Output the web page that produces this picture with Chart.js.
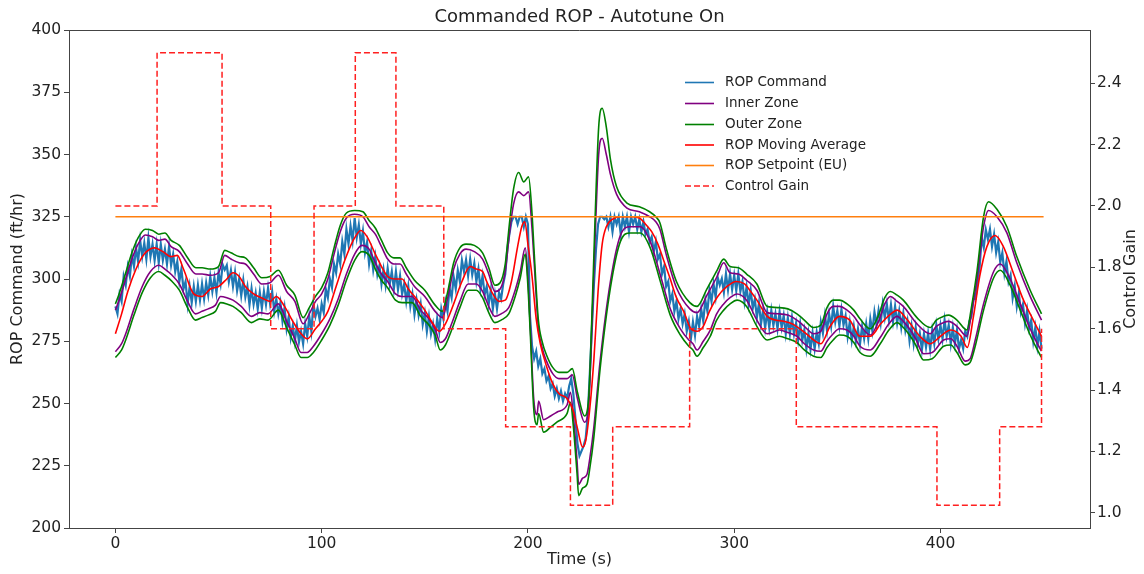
<!DOCTYPE html>
<html><head><meta charset="utf-8">
<script src="https://cdn.jsdelivr.net/npm/chart.js@4.4.0/dist/chart.umd.min.js"></script>
<style>html,body{margin:0;padding:0;background:#fff;}canvas{display:block;}</style>
</head><body>
<canvas id="c" width="1144" height="574"></canvas>
<script>
// ---------------- DATA ----------------
const chartTitle = 'Commanded ROP - Autotune On';
const xTitle = 'Time (s)';
const yTitle = 'ROP Command (ft/hr)';
const y2Title = 'Control Gain';
const legendLabels = ['ROP Command','Inner Zone','Outer Zone','ROP Moving Average','ROP Setpoint (EU)','Control Gain'];
const xTicks = [0,100,200,300,400];
const yTicks = [200,225,250,275,300,325,350,375,400];
const y2Ticks = [1.0,1.2,1.4,1.6,1.8,2.0,2.2,2.4];

// ROP command sampled once per second, t = 0 .. 449 s
const ropCommand = [
289,286,294,291,301,297.5,305,301,309.5,305,
312.5,307,315.5,309,314.5,308,316.5,309,314,307.5,
314,306.5,314,307.5,312,306,313,305.5,310,303,
307,299,304,296,299,290,297,290.5,297,291,
297.5,291.5,298,292,298.5,293.5,301,295,300.5,294.5,
302.5,298,305.8,303.7,305.5,299,303.5,297,302.7,295.3,
300,293.3,299.5,292.8,297,289.6,296.2,289.8,294.4,288,
294.7,288.3,295,289.7,296.3,290,295,287,292,286,
290.5,283,288.5,280,284.8,276.5,281.3,275,281.3,274.7,
279,274,282,277,285,279,290,285,288.3,283.7,
290,286.5,296,292.5,300,296.5,306,302.5,310,306,
315,310,320,314.1,321.3,315.4,324.5,316.7,321.8,314,
319.3,310.5,314.8,306,311.3,303.7,309,301.7,305.3,298,
303.8,297.5,304.3,298,303,296,303,295.7,301.3,294,
298,291,297,289,293.9,285.8,291.6,285.5,290.1,281.8,
286.4,279,285,278,282,276,284,279,288,284,
291,287,296.3,292.5,300.8,296,303.5,299,307.5,303,
307.7,301.3,308,301.7,306.3,299,304,296,301.3,293.7,
297,290,295.5,288,294,288,294.5,292,298,302,
312,318,323,325,325,322,325,325,321,325,
322,285,273,268,271,265,268,262,264,259,
261,256,258,253,256,252,255,251,254,252,
257,260,254,244,234,229,231,233,236,245,
262,280,298,312,322,325,325,324,325,321,
325,319,325,322,325,318,325,321,325,319,
325,322,325,320,324,319,323,318,320,315,
317,311,315,308,310,302,305,297,299,291,
294,287,291,284,288,282,286,279,283,276,
282.7,277.3,285,281,288,283,291.5,287,295.5,291,
297.9,292.8,300.7,297.6,300.2,294.7,302.1,295.6,302,295.8,
301.5,295.3,302,295,299,291,296.8,289.7,295.5,288.2,
291.9,284.6,290.3,282,287.6,280.3,286.9,280.5,287.4,281.3,
286.1,280,286.8,280.5,285.3,278,284.5,278,284.5,277.9,
282.3,275.6,282,275.3,279.6,271.9,278.2,271.8,278.4,272,
278.6,274.1,282.7,278.2,285.4,279.2,286.1,281,289,282.7,
287.4,281.1,287.8,281.5,285.2,276.9,282.6,275.3,281,275,
280,274,281,276,282,276,284,279,286.8,281.6,
287.4,282.2,290,284.5,290,283.5,289.7,282.9,289.1,282.3,
287.3,280.5,286.4,279.3,283.3,275.2,281.1,274,280.4,273.8,
278.2,271.6,278,272.6,278.2,271.8,279.4,274,281.5,276,
281.5,276,283.5,277,281.5,274,280.5,274,279.5,272,
275.5,272,279,277,283,285,292,292,299,305,
316.6,312.7,319.8,315.9,320,313,317.9,310.6,314.9,306.7,
310.5,302.3,307.1,298.9,301.7,292.4,297.2,289,294.3,286.6,
289.9,282.2,287.5,280,283.5,275,280.5,273,279,272
];

// [time (s), ROP] pairs
const innerUpper = [[0,287.5],[2,292],[5,300],[8,308],[11,314],[14.5,317.7],[18,317],[21,315.5],[24,316],[27,313],[31,311],[35,306],[39,302],[42,302],[46,301.5],[50,302.5],[53,309.5],[56,308],[60,306.5],[63,306],[67,302],[71,298],[75,298.5],[79,301.5],[83,295],[87,291],[91,282],[94,286],[97,291],[100,294],[103,300],[106,310],[109,319],[112,324.5],[116,326],[120,325],[123,321],[126,318],[129,313],[132,308],[135,306],[138,306],[141,302],[145,297],[150,293],[155,287],[158.5,284.5],[161,292],[164,304],[167,310],[170,312],[174,311],[178,308],[181,302],[184,295],[186.5,296],[189,303],[191,318],[193,330],[195.5,335],[198,333.5],[200.3,335],[202,320],[203,307],[205,281],[207,272],[209,267],[212,262],[215,260],[219,260],[221.5,261.5],[224,252],[227.5,242.5],[229.5,250],[231,280],[232.5,315],[234.3,350],[236,356.5],[238,350],[240,342],[243,334],[248,328.5],[254,327],[259,325],[262,323],[264,320],[267,310],[272,296.5],[278.5,288],[282,286.5],[286.8,293.5],[291.7,301],[294.9,306.5],[298,302.5],[302,302],[306,299.5],[311,295.5],[316,286.5],[322,286],[326,285.5],[330.4,283.5],[334,281],[338.5,278],[342,279],[345,286],[348,289],[351,289],[354.7,287.5],[358,285],[361,281.5],[366,277.5],[370,283],[373,290],[375.7,293],[379,291],[382,289],[388.6,282],[395,278],[398,281],[401.5,282.5],[404,283],[408,281],[412.8,277],[415,286],[417.7,300],[420.9,321],[423.3,327.5],[427.4,325],[432.2,318.5],[437,306.5],[443.5,293],[449,283.5]];

const innerLower = [[0,270.8],[3,274],[5,278],[9,288],[13,297],[17,303],[21,305.5],[24,304],[27.5,301.5],[31,298],[35,291],[38.8,286],[42,287],[45,288],[48.5,289.5],[51,293],[54,292.5],[57,291.5],[61,289],[66,285],[70,286.5],[74,286],[79,290],[83,283],[87,276],[90,270.5],[93,270.5],[96,273],[100,278],[104,284],[108,292],[112,302],[116,310],[119.5,313.5],[123,312],[126,306.5],[129,302],[132,299],[135.8,294],[139,293],[143.8,293],[148,287.5],[152,284],[155,280],[157.5,274.5],[160,276],[163,282],[167,291],[171,298],[175,298],[178,295],[181,289],[184,285],[187,286],[190.7,288.5],[194,296],[196.3,303],[198.7,312.5],[200,300],[201.2,280],[202.8,252],[204.4,245.5],[205.2,251],[207.6,243.5],[211,245],[214,246.5],[219,249.5],[220.6,254.5],[222,245],[223.8,227],[224.6,217.5],[226.5,220],[228.6,221.5],[230,228],[231.9,240],[235,267],[240,299],[244.8,317.5],[249.6,321],[254.5,321],[259.3,315],[264.2,301.5],[269,288],[273.9,280],[278,275.5],[280,274],[282,271.5],[285,275],[288.4,279.5],[291.5,286],[294.9,290],[298,292.5],[301.4,294],[306,291.5],[311,283.5],[316,278],[322,279.5],[326,278.5],[330.4,277],[334,274],[338.5,271.5],[342,271],[345,275],[348,278],[351,280],[354.7,279.5],[358,277],[361,273],[366,271.5],[370.8,276.5],[375,282],[378.9,285],[382,283],[385.4,279.5],[388,276],[391.8,270],[396,270.5],[401.5,275.5],[405,276],[408,273],[412,267],[414.4,268],[417,276],[420.9,290],[425.8,303],[429,306],[433.8,300],[438.7,290],[443.5,280],[447,274],[449,271]];

const outerUpper = [[0,290],[2,294.5],[5,302.5],[8,310.5],[11,316.5],[14.5,320],[18,319.5],[21,318],[24,318.5],[27,315.5],[31,313.5],[35,308.5],[39,304.5],[42,304.5],[46,304],[50,305],[53,311.5],[56,310.5],[60,309],[63,308.5],[67,304.5],[71,300.5],[75,301],[79,303.5],[83,297.5],[87,293.5],[91,284.5],[94,288.5],[97,293],[100,296.5],[103,302.5],[106,312.5],[109,321.5],[112,326.5],[116,327.5],[120,327],[123,323.5],[126,320.5],[129,315.5],[132,310.5],[135,308.5],[138,308.5],[141,304.5],[145,299.5],[150,295.5],[155,289.5],[158.5,287],[161,294.5],[164,306.5],[167,312.5],[170,314],[174,313.5],[178,310.5],[181,304.5],[184,297.5],[186.5,298.5],[189,306],[191,322],[193,336],[195.5,342.8],[198,339],[200.3,341],[202,326],[203,311],[205,284],[207,274.5],[209,269.5],[212,264.5],[215,262.5],[219,262.5],[221.5,264],[224,254.5],[227.5,245],[229.5,253],[231,285],[232.5,323],[234.3,361],[236,368.6],[238,361],[240,348],[243,337],[248,330.5],[254,329],[259,327],[262,325],[264,322.5],[267,312.5],[272,299],[278.5,290.5],[282,289],[286.8,296],[291.7,303.5],[294.9,308],[298,305],[302,304.5],[306,302],[311,298],[316,289],[322,288.5],[326,288],[330.4,286],[334,283.5],[338.5,280.5],[342,281.5],[345,288.5],[348,291.5],[351,291.5],[354.7,290],[358,287.5],[361,284],[366,280],[370,285.5],[373,292.5],[375.7,295],[379,293.5],[382,291.5],[388.6,284.5],[395,280.5],[398,283.5],[401.5,285],[404,285.5],[408,283.5],[412.8,279.5],[415,288.5],[417.7,303],[420.9,325],[423.3,331],[427.4,328],[432.2,321],[437,309],[443.5,295.5],[449,286]];

const outerLower = [[0,268.5],[3,271.5],[5,275.5],[9,285.5],[13,294.5],[17,300.5],[21,303],[24,301.5],[27.5,299],[31,295.5],[35,288.5],[38.8,283.5],[42,284.5],[45,285.5],[48.5,287],[51,290.5],[54,290],[57,289],[61,286.5],[66,282.5],[70,284],[74,283.5],[79,287.5],[83,280.5],[87,273.5],[90,268.5],[93,268.5],[96,270.5],[100,275.5],[104,281.5],[108,289.5],[112,299.5],[116,307.5],[119.5,311],[123,309.5],[126,304],[129,299.5],[132,296.5],[135.8,291.5],[139,290.5],[143.8,290.5],[148,285],[152,281.5],[155,277.5],[157.5,271.5],[160,273.5],[163,279.5],[167,288.5],[171,295.5],[175,295.5],[178,292.5],[181,286.5],[184,282.5],[187,283.5],[190.7,286],[194,293.5],[196.3,300.5],[198.7,310],[200,297],[201.2,277],[202.8,248],[204.4,241.5],[205.2,246],[207.6,238.5],[211,240.5],[214,242.5],[219,246],[220.6,250.5],[222,241],[223.8,222],[224.6,213],[226.5,216],[228.6,217.5],[230,224],[231.9,236],[235,264],[240,296.5],[244.8,315],[249.6,318.5],[254.5,318.5],[259.3,312.5],[264.2,299],[269,285.5],[273.9,277.5],[278,273],[280,271.5],[282,269],[285,272.5],[288.4,277],[291.5,283.5],[294.9,287.5],[298,290],[301.4,291.5],[306,289],[311,281],[316,275.5],[322,277],[326,276],[330.4,274.5],[334,271.5],[338.5,269],[342,268.5],[345,272.5],[348,275.5],[351,277.5],[354.7,277],[358,274.5],[361,270.5],[366,269],[370.8,274],[375,279.5],[378.9,282.5],[382,280.5],[385.4,277],[388,273.5],[391.8,267.5],[396,268],[401.5,273],[405,273.5],[408,270.5],[412,265.5],[414.4,266.5],[417,273.5],[420.9,287.5],[425.8,300.5],[429,303.5],[433.8,297.5],[438.7,287.5],[443.5,277.5],[447,271.5],[449,268.5]];

const movingAverage = [[0,278],[3,286],[6,295],[10,304],[14,310],[19,312.5],[23,311],[27,309],[30,309.5],[33,304],[38,294],[42,293],[46,296],[50,297],[54,300],[57,302.5],[60,301],[63,297],[67,294],[72,292],[75,291],[78,293],[82,289],[86,283],[90,278],[93,276],[97,280],[100,283],[103,287],[107,297],[111,307],[115,315],[119,319.5],[122,317],[126,310],[129,305],[132,301],[136,300],[139,300],[142,296],[146,292],[150,287.5],[154,282],[157,279],[160,282],[164,290],[168,299],[172,305],[175,304],[178,303],[180,299],[183,294],[186,291],[189,291.5],[192,299],[195,313],[197,321],[198.5,323],[200,314],[202,301],[204,284],[206,274],[209,265],[212,258],[215,254],[219,252],[222,247],[224,240],[226.5,232.5],[228,235],[230,248],[232,268],[234,295],[236,314],[238,321],[241,324],[245,325],[250,325],[254,324.5],[257,322],[260,319],[263,314],[266,307],[269,300],[272,292.5],[275.5,287],[279,280],[282,279],[285,281],[288,287],[292,293],[296.5,297],[301,299],[305,298],[308,295],[311,291.5],[316,285],[320,283.5],[324,283],[328,282],[331,280.5],[335,278],[338.5,275.5],[342,274],[346.5,281],[351,285],[356,283.5],[361,277],[366,277],[371,282],[376,286],[379,287.5],[384,283.5],[390,277],[395,274],[400,277],[405,279.5],[410,277],[413,272.5],[416,285],[419,301],[422.5,313],[426.5,317.5],[430.5,313],[435.5,302],[440,292],[445,283.5],[449,277]];

const setpoint = [[0,325],[450,325]];

const controlGain = [[0,2.0],[20.2,2.5],[51.7,2.0],[75.3,1.6],[96.3,2.0],[116.3,2.5],[136,2.0],[159.2,1.6],[189.2,1.28],[220.6,1.024],[241.1,1.28],[278.4,1.6],[330.1,1.28],[398.3,1.024],[428.7,1.28],[449,1.6]];

// ---------------- CHART ----------------
const FONT = "'DejaVu Sans', sans-serif";
const TXT = '#222';
const AX = '#444';
const C = {blue:'#1f77b4', purple:'#800080', green:'#008000', red:'#ff0000', orange:'#ff7f0e', gain:'#ff2020'};
const xy = arr => arr.map(p => ({x:p[0], y:p[1]}));
const smooth = {cubicInterpolationMode:'monotone', pointRadius:0, borderWidth:1.6, fill:false};

const datasets = [
  {label:legendLabels[0], data: ropCommand.map((v,i)=>({x:i,y:v})), borderColor:C.blue, borderWidth:2.2, pointRadius:0, tension:0, order:10, yAxisID:'y'},
  Object.assign({label:legendLabels[1], data:xy(innerUpper), borderColor:C.purple, order:8, yAxisID:'y'}, smooth),
  Object.assign({label:legendLabels[1]+' (lower)', data:xy(innerLower), borderColor:C.purple, order:8, yAxisID:'y'}, smooth),
  Object.assign({label:legendLabels[2], data:xy(outerUpper), borderColor:C.green, order:7, yAxisID:'y'}, smooth),
  Object.assign({label:legendLabels[2]+' (lower)', data:xy(outerLower), borderColor:C.green, order:7, yAxisID:'y'}, smooth),
  Object.assign({label:legendLabels[3], data:xy(movingAverage), borderColor:C.red, order:5, yAxisID:'y'}, smooth),
  {label:legendLabels[4], data:xy(setpoint), borderColor:C.orange, borderWidth:1.6, pointRadius:0, order:4, yAxisID:'y'},
  {label:legendLabels[5], data:xy(controlGain), borderColor:C.gain, borderWidth:1.5, borderDash:[6,3], stepped:'before', pointRadius:0, order:1, yAxisID:'y1'}
];

const legendStyle = [
  {color:C.blue, dash:[]},{color:C.purple, dash:[]},{color:C.green, dash:[]},
  {color:C.red, dash:[]},{color:C.orange, dash:[]},{color:C.gain, dash:[6,3]}
];

const decor = {
  id:'decor',
  afterDraw(chart){
    const ctx = chart.ctx, a = chart.chartArea;
    ctx.save();
    ctx.strokeStyle = AX; ctx.lineWidth = 1;
    ctx.beginPath(); ctx.moveTo(a.left, Math.round(a.top)+0.5); ctx.lineTo(a.right, Math.round(a.top)+0.5); ctx.stroke();
    ctx.fillStyle = TXT;
    ctx.textAlign = 'center'; ctx.textBaseline = 'middle';
    const cx = (a.left + a.right)/2, cy = (a.top + a.bottom)/2;
    ctx.font = '18px ' + FONT;
    ctx.fillText(chartTitle, cx, 17);
    ctx.font = '16px ' + FONT;
    ctx.fillText(xTitle, cx, 560);
    ctx.save(); ctx.translate(18, cy); ctx.rotate(-Math.PI/2); ctx.fillText(yTitle, 0, 0); ctx.restore();
    ctx.save(); ctx.translate(1131, cy); ctx.rotate(-Math.PI/2); ctx.fillText(y2Title, 0, 0); ctx.restore();
    ctx.font = '13.5px ' + FONT;
    ctx.textAlign = 'left';
    const rowY = [82.5, 103.5, 124.5, 145, 165.5, 186];
    legendLabels.forEach((lab, i) => {
      const y = rowY[i];
      ctx.strokeStyle = legendStyle[i].color; ctx.lineWidth = 1.6;
      ctx.setLineDash(legendStyle[i].dash);
      ctx.beginPath(); ctx.moveTo(685, y); ctx.lineTo(714, y); ctx.stroke();
      ctx.setLineDash([]);
      ctx.fillStyle = TXT;
      ctx.fillText(lab, 725, y);
    });
    ctx.restore();
  }
};

const tickFont = {family:FONT, size:15.5};
new Chart(document.getElementById('c'), {
  type:'line',
  data:{datasets},
  options:{
    responsive:false, devicePixelRatio:1, animation:false,
    layout:{padding:{top:30,left:0,right:0,bottom:0}},
    plugins:{legend:{display:false}, title:{display:false}, tooltip:{enabled:false}},
    elements:{line:{borderCapStyle:'butt'}},
    scales:{
      x:{type:'linear', min:-22.5, max:472.5,
         afterBuildTicks: s => { s.ticks = xTicks.map(v => ({value:v})); },
         afterFit: s => { s.height = 46; },
         ticks:{font:tickFont, color:TXT, padding:2, maxRotation:0, autoSkip:false, callback: v => String(v)},
         grid:{drawOnChartArea:false, tickLength:5, color:AX}, border:{color:AX, width:1}},
      y:{type:'linear', position:'left', min:200, max:400,
         afterBuildTicks: s => { s.ticks = yTicks.map(v => ({value:v})); },
         afterFit: s => { s.width = 69; },
         ticks:{font:tickFont, color:TXT, padding:3, autoSkip:false, callback: v => String(v)},
         grid:{drawOnChartArea:false, tickLength:5, color:AX}, border:{color:AX, width:1}},
      y1:{type:'linear', position:'right', min:0.9502, max:2.5738,
         afterBuildTicks: s => { s.ticks = y2Ticks.map(v => ({value:v})); },
         afterFit: s => { s.width = 54; },
         ticks:{font:tickFont, color:TXT, padding:2, autoSkip:false, callback: v => Number(v).toFixed(1)},
         grid:{drawOnChartArea:false, tickLength:5, color:AX}, border:{color:AX, width:1}}
    }
  },
  plugins:[decor]
});
</script>
</body></html>
